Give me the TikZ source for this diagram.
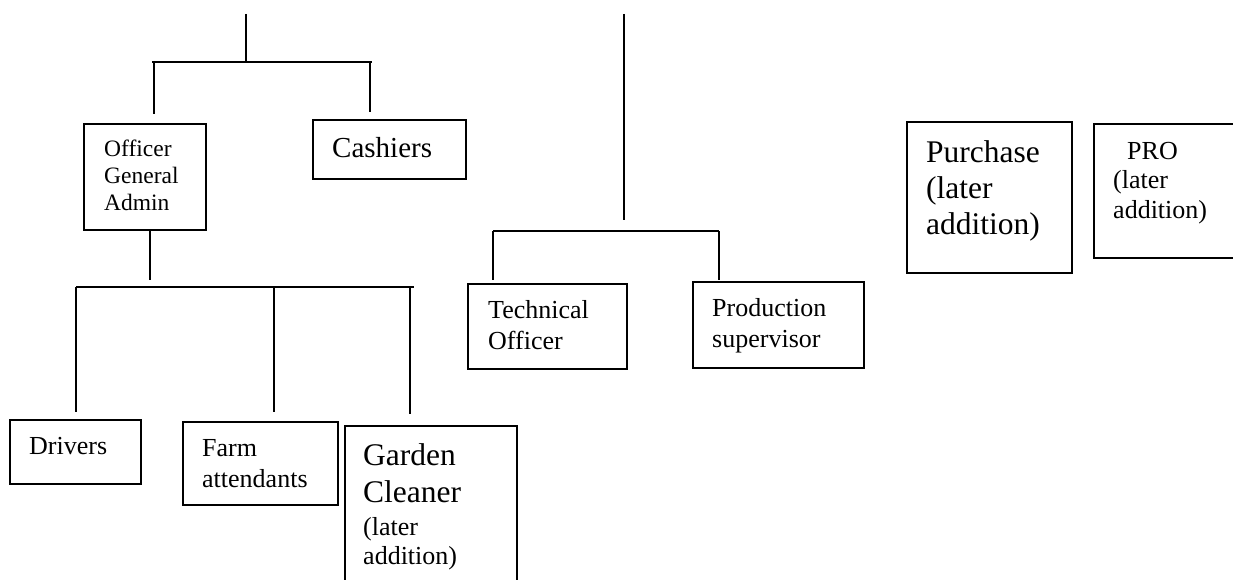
\documentclass[tikz,border=0pt]{standalone}
\usepackage{fontspec}
\setmainfont{Liberation Serif}
\usepackage{tikz}
\usetikzlibrary{positioning}

\tikzset{
    unit/.style={draw, line width=1.8pt, anchor=north west, inner sep=0pt},
    txt/.style={inner sep=0pt, align=left},
    link/.style={line width=1.8pt}
}
\newcommand{\fsmall}[1]{\fontsize{26}{#1}\selectfont}
\newcommand{\fbig}[1]{\fontsize{31.5}{#1}\selectfont}

\begin{document}
\begin{tikzpicture}[x=1pt, y=-1pt]

    \useasboundingbox (0, 0) rectangle (1233, 580);
    \clip (0, 0) rectangle (1233, 580);

    % boxes
    \node[unit, minimum width=122, minimum height=106] (offc) at (83, 123) {};
    \node[unit, minimum width=153, minimum height=59] (cash) at (312, 119) {};
    \node[unit, minimum width=131, minimum height=64] (driv) at (9, 419) {};
    \node[unit, minimum width=155, minimum height=83] (farm) at (182, 421) {};
    \node[unit, minimum width=172, minimum height=170] (gard) at (344, 425) {};
    \node[unit, minimum width=159, minimum height=85] (tech) at (467, 283) {};
    \node[unit, minimum width=171, minimum height=86] (prod) at (692, 281) {};
    \node[unit, minimum width=165, minimum height=151] (purc) at (906, 121) {};
    \node[unit, minimum width=160, minimum height=134] (pro) at (1093, 123) {};

    % texts
    \node[txt, font=\fontsize{23.5}{27}\selectfont, below right=14.1pt and 21pt of offc.north west] (offctxt)
        {\strut Officer\\General\\Admin};
    \node[txt, font=\fontsize{29}{34}\selectfont, below right=14.2pt and 20pt of cash.north west] (cashtxt)
        {\strut Cashiers};
    \node[txt, font=\fsmall{31}, below right=13.3pt and 20pt of driv.north west] (drivtxt)
        {\strut Drivers};
    \node[txt, font=\fsmall{31}, below right=13.3pt and 20pt of farm.north west] (farmtxt)
        {\strut Farm\\attendants};
    \node[txt, font=\fbig{37}, below right=14.1pt and 19pt of gard.north west] (gardtxt)
        {\strut Garden\\Cleaner};
    \node[txt, font=\fsmall{29}, below right=89.7pt and 19pt of gard.north west] (gardnote)
        {\strut (later\\addition)};
    \node[txt, font=\fsmall{31}, below right=13.3pt and 21pt of tech.north west] (techtxt)
        {\strut Technical\\Officer};
    \node[txt, font=\fsmall{31}, below right=13.3pt and 20pt of prod.north west] (prodtxt)
        {\strut Production\\supervisor};
    \node[txt, font=\fbig{36}, below right=15.8pt and 20pt of purc.north west] (purctxt)
        {\strut Purchase\\(later\\addition)};
    \node[txt, font=\fsmall{29.5}, below right=15.35pt and 20pt of pro.north west] (protxt)
        {\strut\hspace*{14pt}PRO\\(later\\addition)};

    % first tree
    \coordinate (rootA) at (246, 14);
    \coordinate (busAl) at (154, 62);
    \coordinate (busAr) at (370, 62);
    \draw[link] (rootA) -- (rootA |- busAl);
    \draw[link] ([xshift=-2pt]busAl) -- ([xshift=2pt]busAr);
    \draw[link, shorten >=9pt] (busAl) -- (busAl |- offc.north);
    \draw[link, shorten >=7pt] (busAr) -- (busAr |- cash.north);

    % under the admin officer
    \coordinate (stubB) at (150, 280);
    \coordinate (busBl) at (76, 287);
    \coordinate (busBm) at (274, 287);
    \coordinate (busBr) at (410, 287);
    \draw[link] (stubB |- offc.south) -- (stubB);
    \draw[link] (busBl) -- ([xshift=4pt]busBr);
    \draw[link, shorten >=7pt] (busBl) -- (busBl |- driv.north);
    \draw[link, shorten >=9pt] (busBm) -- (busBm |- farm.north);
    \draw[link, shorten >=11pt] (busBr) -- (busBr |- gard.north);

    % second tree
    \coordinate (rootC) at (624, 14);
    \coordinate (stubC) at (624, 220);
    \coordinate (busCl) at (493, 231);
    \coordinate (busCr) at (719, 231);
    \draw[link] (rootC) -- (stubC);
    \draw[link] (busCl) -- (busCr);
    \draw[link, shorten >=3pt] (busCl) -- (busCl |- tech.north);
    \draw[link, shorten >=1pt] (busCr) -- (busCr |- prod.north);

\end{tikzpicture}
\end{document}
